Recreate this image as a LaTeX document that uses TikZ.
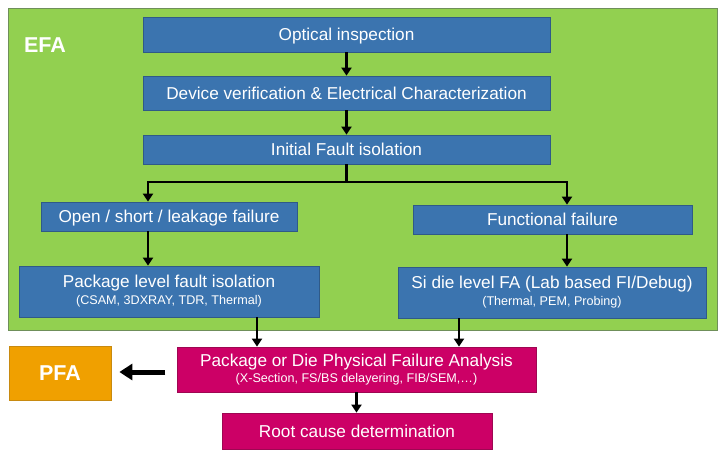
\documentclass[tikz,border=0pt]{standalone}
\usepackage{fontspec}
\setmainfont{Liberation Sans}
\usetikzlibrary{arrows.meta,calc}
\definecolor{efagreen}{HTML}{92D050}
\definecolor{efaedge}{HTML}{6F8F5A}
\definecolor{boxblue}{HTML}{3B74AF}
\definecolor{blueedge}{HTML}{2F5A88}
\definecolor{pfamag}{HTML}{CC0066}
\definecolor{magedge}{HTML}{9E0752}
\definecolor{pfaorange}{HTML}{F0A000}
\definecolor{orangeedge}{HTML}{C88A10}
\newcommand{\mainsz}{\fontsize{17.2}{19}\selectfont}
\newcommand{\subsz}{\fontsize{12.6}{14}\selectfont}
\tikzset{
  bluebox/.style={draw=blueedge, fill=boxblue, line width=0.8pt, text=white, inner sep=0pt, align=center, font=\mainsz},
  magbox/.style={draw=magedge, fill=pfamag, line width=0.8pt, text=white, inner sep=0pt, align=center, font=\mainsz},
  oneline/.style={text height=12.3pt, text depth=0pt},
  arr/.style={line width=2.6pt, -{Triangle[width=10pt,length=8pt]}},
  bigarr/.style={line width=5pt, -{Triangle[width=16pt,length=13pt]}}
}
\begin{document}
\begin{tikzpicture}[x=1pt,y=-1pt]
\useasboundingbox (0,0) rectangle (724,456);
\fill[white] (0,0) rectangle (724,456);
% EFA region
\draw[draw=efaedge, fill=efagreen, line width=0.8pt] (8,8) rectangle (717,330);
\node[text=white, font=\fontsize{21.5}{23}\selectfont\bfseries, text height=15.4pt, text depth=0pt] (efa) at (45,45) {EFA};
% nodes
\node[bluebox, oneline, minimum width=407, minimum height=35] (opt) at (346.5,34.5) {Optical inspection};
\node[bluebox, oneline, minimum width=407, minimum height=34] (dev) at (346.5,93) {Device verification \& Electrical Characterization};
\node[bluebox, oneline, minimum width=407, minimum height=29] (init) at (346.5,149.5) {Initial Fault isolation};
\node[bluebox, oneline, minimum width=256, minimum height=29] (open) at (169,216.5) {Open / short / leakage failure};
\node[bluebox, oneline, minimum width=279, minimum height=29] (func) at (552.5,219.5) {Functional failure};
\node[bluebox, minimum width=300, minimum height=51] (pkg) at (169,291.5) {Package level fault isolation\\[-2pt]{\subsz (CSAM, 3DXRAY, TDR, Thermal)}};
\node[bluebox, minimum width=308, minimum height=51] (si) at (552,292.5) {Si die level FA (Lab based FI/Debug)\\[-2pt]{\subsz (Thermal, PEM, Probing)}};
\node[magbox, minimum width=359, minimum height=45] (phys) at (356.5,369.5) {Package or Die Physical Failure Analysis\\[-3pt]{\subsz (X-Section, FS/BS delayering, FIB/SEM,\dots)}};
\node[draw=orangeedge, fill=pfaorange, line width=0.8pt, text=white, inner sep=0pt, minimum width=102, minimum height=54, font=\fontsize{21.5}{23}\selectfont\bfseries, text height=15.4pt, text depth=0pt] (pfa) at (60,373) {PFA};
\node[magbox, oneline, minimum width=270, minimum height=36] (root) at (357,431) {Root cause determination};
% connector x positions
\coordinate (bl) at (148,182);
\coordinate (br) at (567,182);
\coordinate (pl) at (257,0);
\coordinate (pr) at (459,0);
% connectors
\draw[arr] (opt.south -| init.center) -- (dev.north -| init.center);
\draw[arr] (dev.south -| init.center) -- (init.north -| init.center);
\draw[arr] (init.south) -- (init.south |- bl) -| (bl |- open.north);
\draw[arr] (init.south) -- (init.south |- br) -| (br |- func.north);
\draw[arr] (bl |- open.south) -- (bl |- pkg.north);
\draw[arr] (br |- func.south) -- (br |- si.north);
\draw[arr] (pl |- pkg.south) -- (pl |- phys.north);
\draw[arr] (pr |- si.south) -- (pr |- phys.north);
\draw[arr] (phys.south) -- (phys.south |- root.north);
\draw[bigarr] ($(pfa.east)+(54,-1)$) -- ($(pfa.east)+(8,-1)$);
\end{tikzpicture}
\end{document}
